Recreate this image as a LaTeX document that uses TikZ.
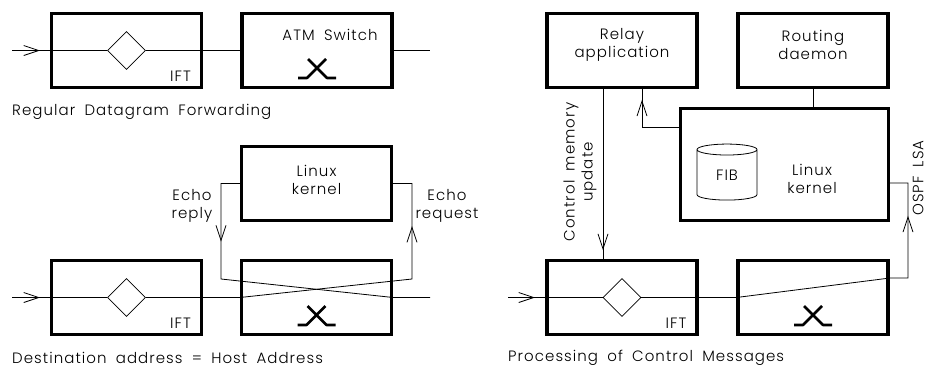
\documentclass[tikz,border=0pt]{standalone}
\usepackage{fontspec}
\setmainfont{Poppins}[UprightFont=* Light, WordSpace=1.8, LetterSpace=7]
\usetikzlibrary{positioning,calc}
\usetikzlibrary{shapes.geometric,arrows.meta,decorations.markings}
\tikzstyle{box} = [draw, line width=3.2pt, minimum width=150pt, minimum height=74pt, inner sep=0pt]
\tikzstyle{dia} = [diamond, draw, line width=0.8pt, minimum width=38pt, minimum height=38pt, inner sep=0pt]
\tikzstyle{flow} = [line width=0.8pt]
\tikzstyle{lbl} = [font=\fontsize{15}{18}\selectfont, inner sep=0pt, align=center]
\tikzset{barb/.style={postaction={decorate,decoration={markings,
  mark=at position #1 with {\arrow{Straight Barb[length=15pt,width=10pt]}}}}}}
\tikzset{xsw/.pic={\draw[line width=2.6pt, line join=round]
  (-19,9)--(-10,9)--(9,-10) (19,9)--(10,9)--(-9,-10);}}

\begin{document}
\begin{tikzpicture}[x=1pt,y=-1pt]
\useasboundingbox (0,0) rectangle (928,370);
% regular forwarding
\node[box] (ift1) at (126.5,50.5) {};
\node[box] (atm1) at (317,50.5) {};
\node[dia] (dia1) at (126.5,50.5) {};
\node[lbl, above left=7pt and 12pt of ift1.south east] (ift1t) {IFT};
\node[lbl] (atm1t) at (330,35) {ATM Switch};
\pic at (317,69) {xsw};
\coordinate (in1) at (12,50.5);
\coordinate (out1) at (430,50.5);
\draw[flow, barb=28pt] (in1) -- (dia1.west);
\draw[flow] (dia1.east) -- (atm1.west);
\draw[flow] (atm1.east) -- (out1);
\node[lbl, anchor=west] (cap1) at (12,112) {Regular Datagram Forwarding};

% host address
\node[box] (lk2) at (316.5,183.5) {};
\node[lbl] (lk2t) at (316.5,180) {Linux\\kernel};
\node[box] (ift2) at (126.5,297.5) {};
\node[box] (sw2) at (316.5,297.5) {};
\node[dia] (dia2) at (126.5,297.5) {};
\node[lbl, above left=7pt and 12pt of ift2.south east] (ift2t) {IFT};
\pic at (316.5,316) {xsw};
\coordinate (in2) at (12,297.5);
\coordinate (out2) at (430,297.5);
\coordinate (rep) at (221,279);
\coordinate (req) at (412,279);
\draw[flow, barb=28pt] (in2) -- (dia2.west);
\draw[flow] (dia2.east) -- (sw2.west);
\draw[flow, barb=226pt] (sw2.west) -- (req) |- (lk2.east); % request
\draw[flow, barb=77pt] (lk2.west) -| (rep) -- (sw2.east) -- (out2); % reply
\node[lbl] (rept) at (192,206) {Echo\\reply};
\node[lbl] (reqt) at (447,206) {Echo\\request};
\node[lbl, anchor=west] (cap2) at (12,358) {Destination address = Host Address};

% control messages
\node[box] (relay) at (622,50.5) {};
\node[lbl] (relayt) at (622,45) {Relay\\application};
\node[box] (rout) at (813,50.5) {};
\node[lbl] (routt) at (813,45) {Routing\\daemon};
\node[box, minimum width=208pt, minimum height=112pt] (kern3) at (784.5,164.5) {};
\node[lbl] (kern3t) at (812,179) {Linux\\kernel};
\node[cylinder, shape border rotate=90, draw, line width=0.8pt, aspect=0.5,
  minimum width=60pt, minimum height=56pt, inner sep=0pt, font=\fontsize{15}{18}\selectfont] (fib) at (727,175) {FIB};
\node[box] (ift3) at (622,297.5) {};
\node[box] (sw3) at (813,297.5) {};
\node[dia] (dia3) at (622,297.5) {};
\node[lbl, above left=7pt and 12pt of ift3.south east] (ift3t) {IFT};
\pic at (813,316) {xsw};
\coordinate (in3) at (508,297.5);
\coordinate (o1) at (890,278);
\coordinate (o2) at (908,278);
\coordinate (o3) at (890,183);
\draw[flow, barb=27pt] (in3) -- (dia3.west);
\draw[flow] (dia3.east) -- (sw3.west);
\draw[flow, barb=235pt] (sw3.west) -- (o1) -- (o2) |- (o3); % lsa
\draw[flow] (rout.south) -- (rout.south |- kern3.north);
\draw[flow, barb=64pt] ($(kern3.north west)+(0,20)$) -| ($(relay.south)+(20,0)$);
\draw[flow, barb=161pt] ($(relay.south)+(-19,0)$) -- ($(ift3.north)+(-19,0)$);
\node[lbl, rotate=90] (cmt) at (580,172) {Control memory\\update};
\node[lbl, rotate=90] (lsat) at (918,178) {OSPF LSA};
\node[lbl, anchor=west] (cap3) at (508,358) {Processing of Control Messages};
\end{tikzpicture}
\end{document}
